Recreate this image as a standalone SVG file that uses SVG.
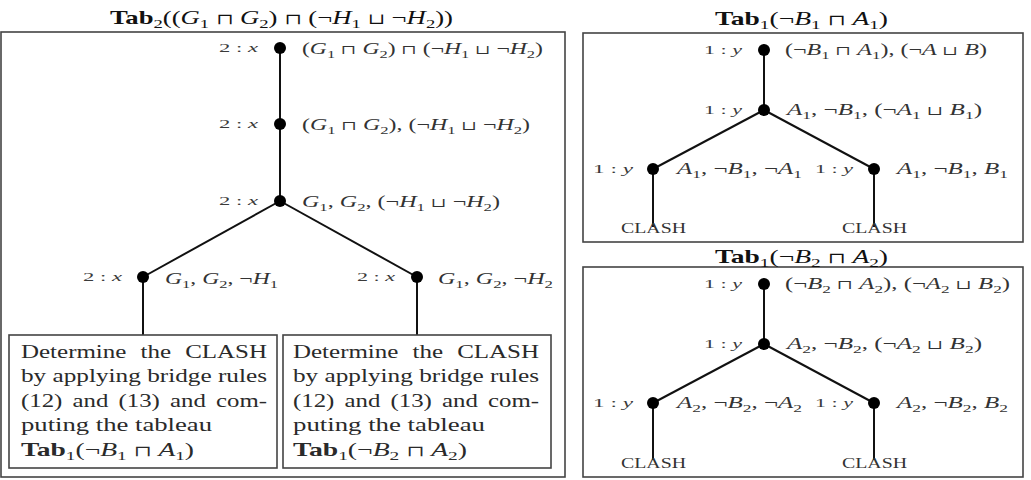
<svg xmlns="http://www.w3.org/2000/svg" width="1031" height="480" viewBox="0 0 1031 480">
<style>
text{font-family:"Liberation Serif","DejaVu Serif",serif;}
.frame{fill:none;stroke:#444;stroke-width:1.6}
.edge{stroke:#111;stroke-width:2;fill:none}
.dot{fill:#000}
.l{font-size:13px;fill:#3a3a3a}
.m{font-size:16px;fill:#333}
.t{font-size:19px;fill:#111}
.b{font-size:19px;fill:#2a2a2a}
.c{font-size:14px;fill:#333}
.i{font-style:italic}
.s{font-size:70%}
.o{font-size:78%}
.bf{font-weight:bold}
</style>
<rect width="1031" height="480" fill="#fff"/>

<!-- frames -->
<g id="frames">
<rect class="frame" x="1" y="32" width="564" height="445"/>
<rect class="frame" x="583" y="33" width="440" height="209"/>
<rect class="frame" x="583" y="267" width="440" height="210"/>
</g>

<!-- titles -->
<g id="titles">
<text class="t" x="110" y="24" textLength="343" lengthAdjust="spacingAndGlyphs"><tspan class="bf">Tab</tspan><tspan class="s" dy="4">2</tspan><tspan dy="-4">((</tspan><tspan class="i">G</tspan><tspan class="s" dy="4">1</tspan><tspan dy="-4"> <tspan class="o">⊓</tspan> </tspan><tspan class="i">G</tspan><tspan class="s" dy="4">2</tspan><tspan dy="-4">) <tspan class="o">⊓</tspan> (¬</tspan><tspan class="i">H</tspan><tspan class="s" dy="4">1</tspan><tspan dy="-4"> <tspan class="o">⊔</tspan> ¬</tspan><tspan class="i">H</tspan><tspan class="s" dy="4">2</tspan><tspan dy="-4">))</tspan></text>
<text class="t" x="715" y="25" textLength="173" lengthAdjust="spacingAndGlyphs"><tspan class="bf">Tab</tspan><tspan class="s" dy="4">1</tspan><tspan dy="-4">(¬</tspan><tspan class="i">B</tspan><tspan class="s" dy="4">1</tspan><tspan dy="-4"> <tspan class="o">⊓</tspan> </tspan><tspan class="i">A</tspan><tspan class="s" dy="4">1</tspan><tspan dy="-4">)</tspan></text>
<text class="t" x="715" y="263" textLength="173" lengthAdjust="spacingAndGlyphs"><tspan class="bf">Tab</tspan><tspan class="s" dy="4">1</tspan><tspan dy="-4">(¬</tspan><tspan class="i">B</tspan><tspan class="s" dy="4">2</tspan><tspan dy="-4"> <tspan class="o">⊓</tspan> </tspan><tspan class="i">A</tspan><tspan class="s" dy="4">2</tspan><tspan dy="-4">)</tspan></text>
</g>

<!-- connectors -->
<g id="connectors">
<line class="edge" x1="280" y1="48" x2="280" y2="201"/>
<line class="edge" x1="280" y1="201" x2="143" y2="277"/>
<line class="edge" x1="280" y1="201" x2="417" y2="277"/>
<line class="edge" x1="143" y1="277" x2="143" y2="335"/>
<line class="edge" x1="417" y1="277" x2="417" y2="335"/>
<line class="edge" x1="764" y1="50" x2="764" y2="110"/>
<line class="edge" x1="764" y1="110" x2="653" y2="169"/>
<line class="edge" x1="764" y1="110" x2="874" y2="169"/>
<line class="edge" x1="653" y1="169" x2="653" y2="227"/>
<line class="edge" x1="874" y1="169" x2="874" y2="227"/>
<line class="edge" x1="764" y1="284" x2="764" y2="344"/>
<line class="edge" x1="764" y1="344" x2="653" y2="403"/>
<line class="edge" x1="764" y1="344" x2="874" y2="403"/>
<line class="edge" x1="653" y1="403" x2="653" y2="460"/>
<line class="edge" x1="874" y1="403" x2="874" y2="460"/>
</g>

<!-- left tableau nodes -->
<g id="n1">
<circle class="dot" cx="280" cy="48" r="6"/>
<text class="l" x="219" y="52" textLength="39" lengthAdjust="spacingAndGlyphs">2 : <tspan class="i">x</tspan></text>
<text class="m" x="302" y="54" textLength="241" lengthAdjust="spacingAndGlyphs">(<tspan class="i">G</tspan><tspan class="s" dy="4">1</tspan><tspan dy="-4"> <tspan class="o">⊓</tspan> </tspan><tspan class="i">G</tspan><tspan class="s" dy="4">2</tspan><tspan dy="-4">) <tspan class="o">⊓</tspan> (¬</tspan><tspan class="i">H</tspan><tspan class="s" dy="4">1</tspan><tspan dy="-4"> <tspan class="o">⊔</tspan> ¬</tspan><tspan class="i">H</tspan><tspan class="s" dy="4">2</tspan><tspan dy="-4">)</tspan></text>
</g>
<g id="n2">
<circle class="dot" cx="280" cy="124" r="6"/>
<text class="l" x="219" y="128" textLength="39" lengthAdjust="spacingAndGlyphs">2 : <tspan class="i">x</tspan></text>
<text class="m" x="302" y="130" textLength="228" lengthAdjust="spacingAndGlyphs">(<tspan class="i">G</tspan><tspan class="s" dy="4">1</tspan><tspan dy="-4"> <tspan class="o">⊓</tspan> </tspan><tspan class="i">G</tspan><tspan class="s" dy="4">2</tspan><tspan dy="-4">), (¬</tspan><tspan class="i">H</tspan><tspan class="s" dy="4">1</tspan><tspan dy="-4"> <tspan class="o">⊔</tspan> ¬</tspan><tspan class="i">H</tspan><tspan class="s" dy="4">2</tspan><tspan dy="-4">)</tspan></text>
</g>
<g id="n3">
<circle class="dot" cx="280" cy="201" r="6"/>
<text class="l" x="219" y="205" textLength="39" lengthAdjust="spacingAndGlyphs">2 : <tspan class="i">x</tspan></text>
<text class="m" x="302" y="207" textLength="198" lengthAdjust="spacingAndGlyphs"><tspan class="i">G</tspan><tspan class="s" dy="4">1</tspan><tspan dy="-4">, </tspan><tspan class="i">G</tspan><tspan class="s" dy="4">2</tspan><tspan dy="-4">, (¬</tspan><tspan class="i">H</tspan><tspan class="s" dy="4">1</tspan><tspan dy="-4"> <tspan class="o">⊔</tspan> ¬</tspan><tspan class="i">H</tspan><tspan class="s" dy="4">2</tspan><tspan dy="-4">)</tspan></text>
</g>
<g id="n4">
<circle class="dot" cx="143" cy="277" r="6"/>
<text class="l" x="83" y="281" textLength="39" lengthAdjust="spacingAndGlyphs">2 : <tspan class="i">x</tspan></text>
<text class="m" x="165" y="284" textLength="113" lengthAdjust="spacingAndGlyphs"><tspan class="i">G</tspan><tspan class="s" dy="4">1</tspan><tspan dy="-4">, </tspan><tspan class="i">G</tspan><tspan class="s" dy="4">2</tspan><tspan dy="-4">, ¬</tspan><tspan class="i">H</tspan><tspan class="s" dy="4">1</tspan></text>
</g>
<g id="n5">
<circle class="dot" cx="417" cy="277" r="6"/>
<text class="l" x="357" y="281" textLength="38" lengthAdjust="spacingAndGlyphs">2 : <tspan class="i">x</tspan></text>
<text class="m" x="438" y="284" textLength="115" lengthAdjust="spacingAndGlyphs"><tspan class="i">G</tspan><tspan class="s" dy="4">1</tspan><tspan dy="-4">, </tspan><tspan class="i">G</tspan><tspan class="s" dy="4">2</tspan><tspan dy="-4">, ¬</tspan><tspan class="i">H</tspan><tspan class="s" dy="4">2</tspan></text>
</g>

<!-- boxes -->
<g id="box1">
<rect class="frame" x="9" y="335" width="268" height="133"/>
<text class="b" x="21" y="358" textLength="246" lengthAdjust="spacingAndGlyphs" word-spacing="6">Determine the CLASH</text>
<text class="b" x="21" y="382" textLength="246" lengthAdjust="spacingAndGlyphs">by applying bridge rules</text>
<text class="b" x="21" y="407" textLength="246" lengthAdjust="spacingAndGlyphs" word-spacing="3">(12) and (13) and com-</text>
<text class="b" x="21" y="431" textLength="191" lengthAdjust="spacingAndGlyphs">puting the tableau</text>
<text class="b" x="21" y="456" textLength="173" lengthAdjust="spacingAndGlyphs"><tspan class="bf">Tab</tspan><tspan class="s" dy="4">1</tspan><tspan dy="-4">(¬</tspan><tspan class="i">B</tspan><tspan class="s" dy="4">1</tspan><tspan dy="-4"> <tspan class="o">⊓</tspan> </tspan><tspan class="i">A</tspan><tspan class="s" dy="4">1</tspan><tspan dy="-4">)</tspan></text>
</g>
<g id="box2">
<rect class="frame" x="283" y="335" width="268" height="133"/>
<text class="b" x="293" y="358" textLength="246" lengthAdjust="spacingAndGlyphs" word-spacing="6">Determine the CLASH</text>
<text class="b" x="293" y="382" textLength="246" lengthAdjust="spacingAndGlyphs">by applying bridge rules</text>
<text class="b" x="293" y="407" textLength="246" lengthAdjust="spacingAndGlyphs" word-spacing="3">(12) and (13) and com-</text>
<text class="b" x="293" y="431" textLength="192" lengthAdjust="spacingAndGlyphs">puting the tableau</text>
<text class="b" x="293" y="456" textLength="174" lengthAdjust="spacingAndGlyphs"><tspan class="bf">Tab</tspan><tspan class="s" dy="4">1</tspan><tspan dy="-4">(¬</tspan><tspan class="i">B</tspan><tspan class="s" dy="4">2</tspan><tspan dy="-4"> <tspan class="o">⊓</tspan> </tspan><tspan class="i">A</tspan><tspan class="s" dy="4">2</tspan><tspan dy="-4">)</tspan></text>
</g>

<!-- right top tableau -->
<g id="r1a">
<circle class="dot" cx="764" cy="50" r="6"/>
<text class="l" x="704" y="54" textLength="38" lengthAdjust="spacingAndGlyphs">1 : <tspan class="i">y</tspan></text>
<text class="m" x="785" y="55" textLength="202" lengthAdjust="spacingAndGlyphs">(¬<tspan class="i">B</tspan><tspan class="s" dy="4">1</tspan><tspan dy="-4"> <tspan class="o">⊓</tspan> </tspan><tspan class="i">A</tspan><tspan class="s" dy="4">1</tspan><tspan dy="-4">), (¬</tspan><tspan class="i">A</tspan> <tspan class="o">⊔</tspan> <tspan class="i">B</tspan>)</text>
</g>
<g id="r1b">
<circle class="dot" cx="764" cy="110" r="6"/>
<text class="l" x="704" y="114" textLength="38" lengthAdjust="spacingAndGlyphs">1 : <tspan class="i">y</tspan></text>
<text class="m" x="787" y="115" textLength="195" lengthAdjust="spacingAndGlyphs"><tspan class="i">A</tspan><tspan class="s" dy="4">1</tspan><tspan dy="-4">, ¬</tspan><tspan class="i">B</tspan><tspan class="s" dy="4">1</tspan><tspan dy="-4">, (¬</tspan><tspan class="i">A</tspan><tspan class="s" dy="4">1</tspan><tspan dy="-4"> <tspan class="o">⊔</tspan> </tspan><tspan class="i">B</tspan><tspan class="s" dy="4">1</tspan><tspan dy="-4">)</tspan></text>
</g>
<g id="r1c">
<circle class="dot" cx="653" cy="169" r="6"/>
<text class="l" x="593" y="173" textLength="40" lengthAdjust="spacingAndGlyphs">1 : <tspan class="i">y</tspan></text>
<text class="m" x="677" y="174" textLength="125" lengthAdjust="spacingAndGlyphs"><tspan class="i">A</tspan><tspan class="s" dy="4">1</tspan><tspan dy="-4">, ¬</tspan><tspan class="i">B</tspan><tspan class="s" dy="4">1</tspan><tspan dy="-4">, ¬</tspan><tspan class="i">A</tspan><tspan class="s" dy="4">1</tspan></text>
<text class="c" x="621" y="233" textLength="65" lengthAdjust="spacingAndGlyphs">CLASH</text>
</g>
<g id="r1d">
<circle class="dot" cx="874" cy="169" r="6"/>
<text class="l" x="815" y="173" textLength="38" lengthAdjust="spacingAndGlyphs">1 : <tspan class="i">y</tspan></text>
<text class="m" x="897" y="174" textLength="111" lengthAdjust="spacingAndGlyphs"><tspan class="i">A</tspan><tspan class="s" dy="4">1</tspan><tspan dy="-4">, ¬</tspan><tspan class="i">B</tspan><tspan class="s" dy="4">1</tspan><tspan dy="-4">, </tspan><tspan class="i">B</tspan><tspan class="s" dy="4">1</tspan></text>
<text class="c" x="842" y="233" textLength="65" lengthAdjust="spacingAndGlyphs">CLASH</text>
</g>

<!-- right bottom tableau -->
<g id="r2a">
<circle class="dot" cx="764" cy="284" r="6"/>
<text class="l" x="704" y="288" textLength="38" lengthAdjust="spacingAndGlyphs">1 : <tspan class="i">y</tspan></text>
<text class="m" x="785" y="289" textLength="225" lengthAdjust="spacingAndGlyphs">(¬<tspan class="i">B</tspan><tspan class="s" dy="4">2</tspan><tspan dy="-4"> <tspan class="o">⊓</tspan> </tspan><tspan class="i">A</tspan><tspan class="s" dy="4">2</tspan><tspan dy="-4">), (¬</tspan><tspan class="i">A</tspan><tspan class="s" dy="4">2</tspan><tspan dy="-4"> <tspan class="o">⊔</tspan> </tspan><tspan class="i">B</tspan><tspan class="s" dy="4">2</tspan><tspan dy="-4">)</tspan></text>
</g>
<g id="r2b">
<circle class="dot" cx="764" cy="344" r="6"/>
<text class="l" x="704" y="348" textLength="38" lengthAdjust="spacingAndGlyphs">1 : <tspan class="i">y</tspan></text>
<text class="m" x="787" y="349" textLength="195" lengthAdjust="spacingAndGlyphs"><tspan class="i">A</tspan><tspan class="s" dy="4">2</tspan><tspan dy="-4">, ¬</tspan><tspan class="i">B</tspan><tspan class="s" dy="4">2</tspan><tspan dy="-4">, (¬</tspan><tspan class="i">A</tspan><tspan class="s" dy="4">2</tspan><tspan dy="-4"> <tspan class="o">⊔</tspan> </tspan><tspan class="i">B</tspan><tspan class="s" dy="4">2</tspan><tspan dy="-4">)</tspan></text>
</g>
<g id="r2c">
<circle class="dot" cx="653" cy="403" r="6"/>
<text class="l" x="593" y="407" textLength="40" lengthAdjust="spacingAndGlyphs">1 : <tspan class="i">y</tspan></text>
<text class="m" x="677" y="408" textLength="125" lengthAdjust="spacingAndGlyphs"><tspan class="i">A</tspan><tspan class="s" dy="4">2</tspan><tspan dy="-4">, ¬</tspan><tspan class="i">B</tspan><tspan class="s" dy="4">2</tspan><tspan dy="-4">, ¬</tspan><tspan class="i">A</tspan><tspan class="s" dy="4">2</tspan></text>
<text class="c" x="621" y="468" textLength="65" lengthAdjust="spacingAndGlyphs">CLASH</text>
</g>
<g id="r2d">
<circle class="dot" cx="874" cy="403" r="6"/>
<text class="l" x="815" y="407" textLength="38" lengthAdjust="spacingAndGlyphs">1 : <tspan class="i">y</tspan></text>
<text class="m" x="897" y="408" textLength="111" lengthAdjust="spacingAndGlyphs"><tspan class="i">A</tspan><tspan class="s" dy="4">2</tspan><tspan dy="-4">, ¬</tspan><tspan class="i">B</tspan><tspan class="s" dy="4">2</tspan><tspan dy="-4">, </tspan><tspan class="i">B</tspan><tspan class="s" dy="4">2</tspan></text>
<text class="c" x="842" y="468" textLength="65" lengthAdjust="spacingAndGlyphs">CLASH</text>
</g>
</svg>
